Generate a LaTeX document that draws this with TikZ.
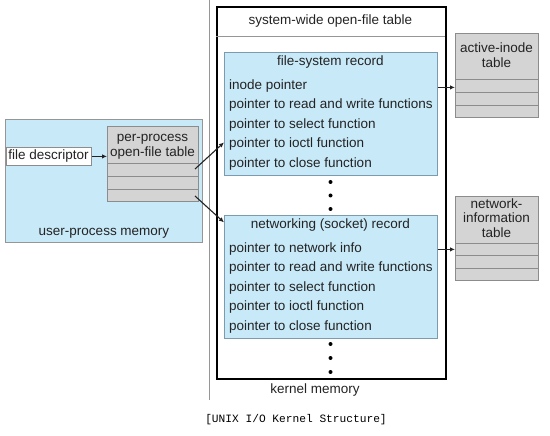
\documentclass[tikz,border=0pt]{standalone}
\usepackage{fontspec}
\setmainfont{Liberation Sans}
\setmonofont{Liberation Mono}
\usetikzlibrary{arrows.meta}
\definecolor{lblue}{RGB}{200,233,248}
\definecolor{lblueedge}{RGB}{125,155,175}
\definecolor{tgray}{RGB}{212,212,212}
\definecolor{tedge}{RGB}{140,140,140}
\definecolor{vline}{RGB}{150,150,150}
\definecolor{txtc}{RGB}{35,35,35}
\tikzset{
  box/.style={rectangle, inner sep=0pt, anchor=north west},
  bluebox/.style={box, fill=lblue, draw=lblueedge, line width=0.8pt},
  graybox/.style={box, fill=tgray, draw=tedge, line width=0.8pt},
  lbl/.style={inner sep=0pt, text=txtc, font=\fontsize{13.5}{15}\selectfont, text height=9.7pt, text depth=2.8pt},
  lblw/.style={lbl, anchor=west},
  arr/.style={line width=1.1pt, draw=txtc, -{Latex[length=5pt,width=4.5pt]}},
  dot/.style={fill=black, draw=none},
  rowline/.style={draw=tedge, line width=0.8pt}
}
\begin{document}
\begin{tikzpicture}[x=1pt,y=-1pt]
\useasboundingbox (0,0) rectangle (550,436);
% separator
\draw[vline, line width=0.9pt] (209,0) -- (209,400);
% user-process memory
\node[bluebox, draw=vline, minimum width=197pt, minimum height=123pt] (upm) at (5,119) {};
\node[lbl] (upmt) at (104,232) {user-process memory};
\node[box, fill=white, draw=tedge, line width=0.8pt, minimum width=85pt, minimum height=18pt] (fd) at (6,147) {};
\node[lbl] (fdt) at (48.5,156) {file descriptor};
\node[graybox, minimum width=91pt, minimum height=75pt] (ppt) at (107,126) {};
\node[lbl] (ppt1) at (152.5,138.5) {per-process};
\node[lbl] (ppt2) at (152.5,153) {open-file table};
\draw[rowline] (107,163) -- (198,163);
\draw[rowline] (107,176) -- (198,176);
\draw[rowline] (107,189) -- (198,189);
% kernel box
\node[box, draw=black, line width=1.6pt, minimum width=229pt, minimum height=372pt] (kern) at (216,6) {};
\draw[vline, line width=0.8pt] (216,36) -- (445,36);
\node[lbl] (kernt) at (330.5,21) {system-wide open-file table};
\node[lbl] (kmem) at (315,390) {kernel memory};
% file-system record
\node[bluebox, minimum width=213pt, minimum height=123pt] (fsrec) at (224,52) {};
\node[lbl] (fst) at (330.5,62) {file-system record};
\node[lblw] (fs1) at (229,86) {inode pointer};
\node[lblw] (fs2) at (229,105.5) {pointer to read and write functions};
\node[lblw] (fs3) at (229,125) {pointer to select function};
\node[lblw] (fs4) at (229,144.5) {pointer to ioctl function};
\node[lblw] (fs5) at (229,164) {pointer to close function};
\fill[dot] (330.5,182) circle (2);
\fill[dot] (330.5,195.5) circle (2);
\fill[dot] (330.5,209) circle (2);
% networking record
\node[bluebox, minimum width=213pt, minimum height=123pt] (netrec) at (224,215) {};
\node[lbl] (nrt) at (330.5,225) {networking (socket) record};
\node[lblw] (nr1) at (229,249) {pointer to network info};
\node[lblw] (nr2) at (229,268.5) {pointer to read and write functions};
\node[lblw] (nr3) at (229,288) {pointer to select function};
\node[lblw] (nr4) at (229,307.5) {pointer to ioctl function};
\node[lblw] (nr5) at (229,327) {pointer to close function};
\fill[dot] (330.5,344) circle (2);
\fill[dot] (330.5,358) circle (2);
\fill[dot] (330.5,372) circle (2);
% active-inode table
\node[graybox, minimum width=83pt, minimum height=84pt] (ai) at (455,33) {};
\node[lbl] (ai1) at (496.5,49.5) {active-inode};
\node[lbl] (ai2) at (496.5,64) {table};
\draw[rowline] (455,79) -- (538,79);
\draw[rowline] (455,92) -- (538,92);
\draw[rowline] (455,105) -- (538,105);
% network-information table
\node[graybox, minimum width=83pt, minimum height=84pt] (ni) at (455,196) {};
\node[lbl] (ni1) at (496.5,205) {network-};
\node[lbl] (ni2) at (496.5,219.5) {information};
\node[lbl] (ni3) at (496.5,234) {table};
\draw[rowline] (455,243) -- (538,243);
\draw[rowline] (455,255.5) -- (538,255.5);
\draw[rowline] (455,268) -- (538,268);
% connectors
\draw[arr] (fd.east) -- (fd.east -| ppt.west);
\coordinate (p1) at (195,169);
\coordinate (p2) at (195,196);
\draw[arr] (p1) -- ([yshift=-28.5pt]fsrec.west);
\draw[arr] (p2) -- ([yshift=54.5pt]netrec.west);
\coordinate (f1) at ([yshift=26.5pt]fsrec.east);
\draw[arr] (f1) -- (f1 -| ai.west);
\coordinate (n1) at ([yshift=27.5pt]netrec.east);
\draw[arr] (n1) -- (n1 -| ni.west);
% caption
\node[inner sep=0pt, text=black, font=\ttfamily\fontsize{11.2}{13}\selectfont] (cap) at (296,420) {[UNIX I/O Kernel Structure]};
\end{tikzpicture}
\end{document}
